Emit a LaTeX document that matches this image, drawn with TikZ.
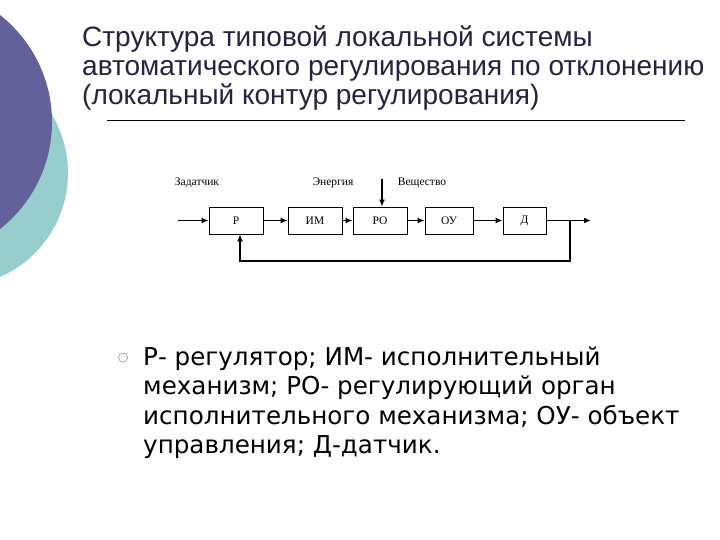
\documentclass[tikz,border=0pt]{standalone}
\usepackage{fontspec}
\setmainfont{Liberation Serif}
\newfontfamily\titlefont{Liberation Sans}
\newfontfamily\bodyfont{DejaVu Sans}
\usetikzlibrary{arrows.meta}

\definecolor{darkplum}{RGB}{99,97,154}
\definecolor{paleteal}{RGB}{152,205,205}
\definecolor{titlenavy}{RGB}{36,36,64}

\begin{document}
\begin{tikzpicture}[x=1pt,y=-1pt,
        block/.style={draw,line width=0.8pt,minimum height=27pt,inner sep=0pt,font=\fontsize{11.5}{13}\selectfont},
        lbl/.style={font=\fontsize{11.5}{13}\selectfont,inner sep=0pt},
        flow/.style={-{Latex[length=7pt,width=6pt]},line width=1.8pt},
        title line/.style={anchor=base west,inner sep=0pt,text=titlenavy,font=\titlefont\fontsize{28}{30}\selectfont},
        body line/.style={anchor=base west,inner sep=0pt,font=\bodyfont\fontsize{24.6}{28}\selectfont}]

    \useasboundingbox (0,0) rectangle (720,540);

    % background circles
    \fill[paleteal] (-45.5,173) circle (113.5);
    \fill[darkplum] (-84,122) circle (136);

    % heading
    \node[title line] (t1) at (82,47) {Структура типовой локальной системы};
    \node[title line] (t2) at (82,76) {автоматического регулирования по отклонению};
    \node[title line] (t3) at (82,105) {(локальный контур регулирования)};
    \draw[line width=0.8pt] (107,120) -- (685,120);

    % blocks
    \node[block,minimum width=54pt] (R) at (236,220.5) {Р};
    \node[block,minimum width=54pt] (IM) at (315,220.5) {ИМ};
    \node[block,minimum width=54pt] (RO) at (380,220.5) {РО};
    \node[block,minimum width=48pt] (OU) at (449,220.5) {ОУ};
    \node[block,minimum width=43pt] (D) at (524.5,220.5) {Д};

    \node[lbl] (zad) at (197,183) {Задатчик};
    \node[lbl] (en) at (333,183) {Энергия};
    \node[lbl] (sub) at (422,183) {Вещество};

    \coordinate (in) at (178,220.5);
    \coordinate (out) at (591,220.5);
    \coordinate (br) at (570,220.5);
    \coordinate (top) at (382,179);

    \draw[flow] (in) -- (R);
    \draw[flow] (R) -- (IM);
    \draw[flow] (IM) -- (RO);
    \draw[flow] (RO) -- (OU);
    \draw[flow] (OU) -- (D);
    \draw[flow] (D) -- (out);
    \draw[flow] (top) -- (top |- RO.north);
    \draw[flow,line width=1.4pt] (br) |- (240,261) -- (R.south -| 240,0);

    % legend
    \draw[line width=0.5pt,gray] (123,357.5) circle (4.5);
    \node[body line] (l1) at (143,365) {Р- регулятор; ИМ- исполнительный};
    \node[body line] (l2) at (143,394.5) {механизм; РО- регулирующий орган};
    \node[body line] (l3) at (143,424) {исполнительного механизма; ОУ- объект};
    \node[body line] (l4) at (143,453.5) {управления; Д-датчик.};

\end{tikzpicture}
\end{document}
